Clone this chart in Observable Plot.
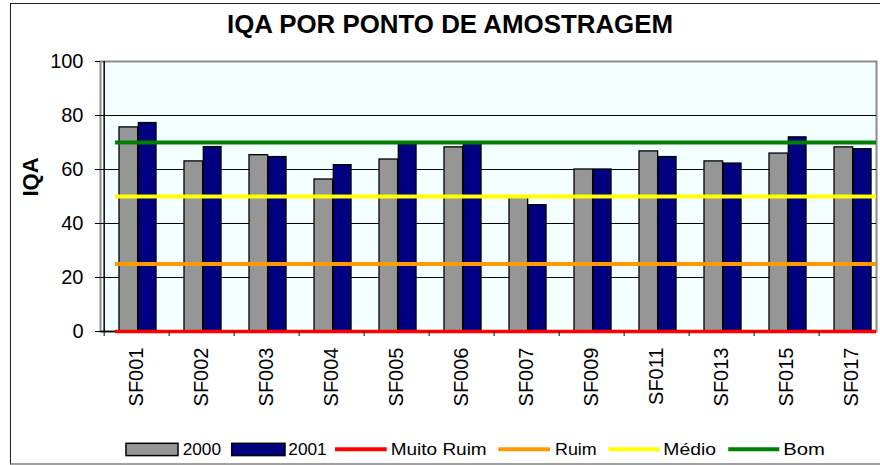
<!DOCTYPE html>
<html>
<head>
<meta charset="utf-8">
<script src="https://cdn.jsdelivr.net/npm/d3@7"></script>
<script src="https://cdn.jsdelivr.net/npm/@observablehq/plot@0.6"></script>
<style>
  html, body { margin: 0; padding: 0; background: #fff; }
  #chart { position: relative; width: 880px; height: 465px; overflow: hidden; background: #fff;
           font-family: "Liberation Sans", Arial, sans-serif; }
  #border { position: absolute; left: 10px; top: 3px; width: 900px; height: 459px;
            border-left: 1px solid #222; border-top: 1px solid #222; border-bottom: 2px solid #a0a0a0; }
  #plot { position: absolute; left: 0; top: 0; }
  #overlay { position: absolute; left: 0; top: 0; pointer-events: none; }
</style>
</head>
<body>
<div id="chart">
  <div id="border"></div>
  <div id="plot"></div>
  <svg id="overlay" width="880" height="465"></svg>
</div>
<script>
// ---- data ----
const title = "IQA POR PONTO DE AMOSTRAGEM";
const yLabel = "IQA";
const categories = ["SF001","SF002","SF003","SF004","SF005","SF006","SF007","SF009","SF011","SF013","SF015","SF017"];
const v2000 = [75.6, 63.0, 65.3, 56.3, 63.7, 68.2, 49.6, 60.0, 66.7, 63.0, 65.9, 68.2];
const v2001 = [77.2, 68.3, 64.6, 61.6, 69.3, 69.5, 46.8, 60.0, 64.6, 62.2, 71.9, 67.5];
const seriesNames = ["2000", "2001"];
const thresholdNames = ["Muito Ruim", "Ruim", "Médio", "Bom"];
const thresholdValues = [0, 25, 50, 70];
const yTicks = [0, 20, 40, 60, 80, 100];
const yGrid = [20, 40, 60, 80];

// ---- styles ----
const barColors = ["#969696", "#000080"];
const lineColors = ["#ff0000", "#ff9900", "#ffff00", "#008000"];
const bg = "#f4ffff";
const font = "Liberation Sans, Arial, sans-serif";

const rows = categories.map((c, i) => ({cat: c, a: v2000[i], b: v2001[i]}));

const xRange = [100, 888];
const bw = (xRange[1] - xRange[0]) / categories.length;

const plot = Plot.plot({
  width: 880,
  height: 420,
  marginTop: 61,
  marginBottom: 89,
  marginLeft: 100,
  marginRight: 4,
  style: {background: "transparent", fontFamily: font, fontSize: "20px", color: "#000"},
  x: {domain: categories, range: xRange, padding: 0, label: null},
  y: {domain: [0, 100], range: [331, 61], label: null},
  marks: [
    Plot.frame({fill: bg, stroke: "#8a8a8a", strokeWidth: 2}),
    Plot.ruleY(yGrid, {stroke: "#000", strokeWidth: 1}),
    Plot.barY(rows, {x: "cat", y: "a", fill: barColors[0], stroke: "#000", strokeWidth: 1.3,
                     insetLeft: 15, insetRight: bw - 34.3}),
    Plot.barY(rows, {x: "cat", y: "b", fill: barColors[1], stroke: "#000", strokeWidth: 1.3,
                     insetLeft: 34.3, insetRight: bw - 52.7}),
    Plot.ruleY([0], {stroke: "#000", strokeWidth: 1.5}),
    Plot.ruleX([categories[0]], {x: d => d, dx: -bw / 2, y1: 0, y2: 100, stroke: "#000", strokeWidth: 1.5}),
    ...thresholdValues.map((v, i) =>
      Plot.ruleY([v], {stroke: lineColors[i], strokeWidth: i === 0 ? 3.5 : 4, insetLeft: 15})),
    Plot.axisY({ticks: yTicks, tickSize: 5, tickPadding: 12, fontSize: 20, label: null, stroke: "#000"}),
    Plot.axisX({tickSize: 0, tickRotate: -90, tickPadding: 16, fontSize: 20, label: null}),
    Plot.axisX({tickSize: 5, text: null, dx: -bw / 2, label: null, stroke: "#000"}),
    Plot.text([yLabel], {frameAnchor: "left", dx: -70, rotate: -90, fontWeight: "bold", fontSize: 22, fill: "#000"})
  ]
});
document.getElementById("plot").appendChild(plot);

// ---- title & legend overlay ----
const svg = d3.select("#overlay");
svg.append("text")
  .attr("x", 450).attr("y", 33)
  .attr("text-anchor", "middle")
  .attr("font-family", font).attr("font-weight", "bold").attr("font-size", 25)
  .attr("textLength", 446).attr("lengthAdjust", "spacingAndGlyphs")
  .text(title);

const legendItems = [
  {type: "box", label: seriesNames[0], color: barColors[0], x0: 126, x1: 178, tx: 182.7, tw: 38.3},
  {type: "box", label: seriesNames[1], color: barColors[1], x0: 231.7, x1: 285, tx: 288.3, tw: 38.4},
  {type: "line", label: thresholdNames[0], color: lineColors[0], x0: 335, x1: 386.7, tx: 390.7, tw: 96},
  {type: "line", label: thresholdNames[1], color: lineColors[1], x0: 498.3, x1: 550, tx: 555, tw: 41.7},
  {type: "line", label: thresholdNames[2], color: lineColors[2], x0: 608.3, x1: 660, tx: 663.3, tw: 52.7},
  {type: "line", label: thresholdNames[3], color: lineColors[3], x0: 728.3, x1: 779.3, tx: 783.3, tw: 41.7}
];
const ly = 449.3;
for (const it of legendItems) {
  if (it.type === "box") {
    svg.append("rect").attr("x", it.x0).attr("y", ly - 6).attr("width", it.x1 - it.x0).attr("height", 12.3)
      .attr("fill", it.color).attr("stroke", "#000").attr("stroke-width", 1.5);
  } else {
    svg.append("line").attr("x1", it.x0).attr("x2", it.x1).attr("y1", ly).attr("y2", ly)
      .attr("stroke", it.color).attr("stroke-width", 4);
  }
  svg.append("text").attr("x", it.tx).attr("y", 454.5)
    .attr("font-family", font).attr("font-size", 16.5)
    .attr("textLength", it.tw).attr("lengthAdjust", "spacingAndGlyphs")
    .text(it.label);
}
</script>
</body>
</html>
